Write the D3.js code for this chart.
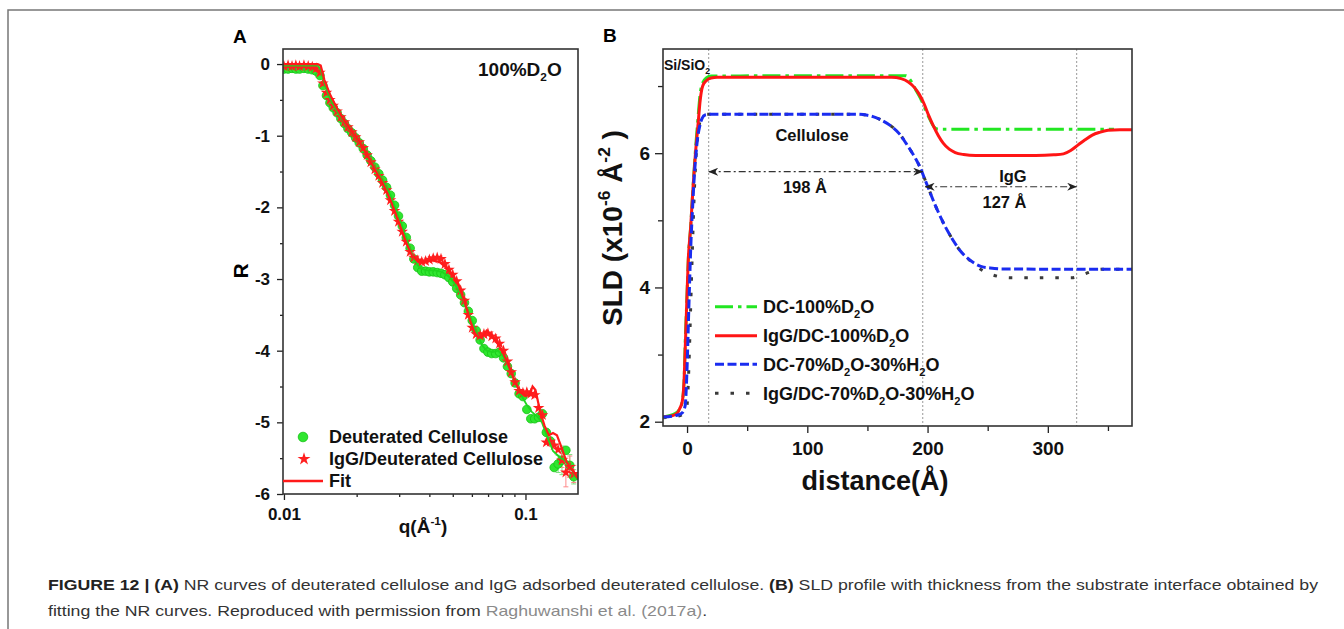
<!DOCTYPE html>
<html>
<head>
<meta charset="utf-8">
<script src="https://cdn.jsdelivr.net/npm/d3@7"></script>
<style>
  body { margin: 0; background: #fff; }
  svg text { font-family: Arial, "Liberation Sans", sans-serif; white-space: pre; }
</style>
</head>
<body>
<script>
// ---- panel A : NR curves (log q vs R) ----
var qPoints = [0.0100,0.0104,0.0108,0.0112,0.0116,0.0121,0.0126,0.0131,0.0136,0.0141,
  0.0145,0.0150,0.0155,0.0160,0.0166,0.0172,0.0178,0.0184,0.0191,0.0198,
  0.0205,0.0213,0.0221,0.0229,0.0238,0.0247,0.0256,0.0266,0.0276,0.0287,
  0.0298,0.0309,0.0321,0.0333,0.0345,0.0358,0.0372,0.0386,0.0400,0.0415,
  0.0431,0.0447,0.0464,0.0482,0.0500,0.0519,0.0539,0.0559,0.0580,0.0602,
  0.0625,0.0649,0.0673,0.0699,0.0725,0.0753,0.0781,0.0811,0.0842,0.0873,
  0.0906,0.0941,0.0976,0.1013,0.1052,0.1092,0.1133,0.1176,0.1220,0.1267,
  0.1315,0.1365,0.1416,0.1470,0.1526,0.1584]
var rStar = [-0.03,-0.02,-0.03,-0.02,-0.03,-0.02,-0.03,-0.04,-0.06,-0.12,
  -0.27,-0.40,-0.50,-0.58,-0.66,-0.74,-0.81,-0.88,-0.95,-1.02,
  -1.09,-1.17,-1.27,-1.37,-1.47,-1.56,-1.66,-1.76,-1.90,-2.05,
  -2.20,-2.34,-2.48,-2.62,-2.70,-2.74,-2.76,-2.75,-2.73,-2.71,
  -2.70,-2.72,-2.79,-2.87,-2.94,-3.03,-3.16,-3.30,-3.50,-3.68,
  -3.77,-3.79,-3.77,-3.76,-3.80,-3.83,-3.90,-4.00,-4.15,-4.30,
  -4.44,-4.56,-4.59,-4.58,-4.60,-4.62,-4.80,-4.90,-5.28,-5.27,
  -5.32,-5.38,-5.53,-5.70,-5.62,-5.72]
var rCirc = [-0.07,-0.07,-0.06,-0.07,-0.07,-0.06,-0.07,-0.08,-0.10,-0.16,
  -0.30,-0.44,-0.54,-0.61,-0.68,-0.76,-0.83,-0.90,-0.96,-1.03,
  -1.10,-1.18,-1.27,-1.35,-1.44,-1.53,-1.62,-1.72,-1.83,-1.97,
  -2.12,-2.26,-2.42,-2.57,-2.72,-2.84,-2.89,-2.89,-2.90,-2.90,
  -2.91,-2.92,-2.94,-2.98,-3.04,-3.13,-3.22,-3.33,-3.45,-3.58,
  -3.72,-3.85,-3.97,-4.02,-4.04,-4.04,-4.02,-4.10,-4.22,-4.32,
  -4.45,-4.60,-4.64,-4.82,-4.95,-4.95,-4.93,-4.88,-5.14,-5.26,
  -5.63,-5.58,-5.53,-5.39,-5.60,-5.76]

var qFitRed = [0.0099,0.0138,0.0142,0.0147,0.0155,0.0166,0.0178,0.0191,0.0205,0.0221,
  0.0238,0.0256,0.0276,0.0298,0.0321,0.0340,0.0358,0.0380,0.0410,0.0440,
  0.0470,0.0500,0.0530,0.0560,0.0590,0.0615,0.0640,0.0665,0.0690,0.0720,
  0.0760,0.0800,0.0850,0.0900,0.0950,0.1000,0.1040,0.1070,0.1100,0.1150,
  0.1200,0.1250,0.1300,0.1350,0.1400,0.1480,0.1600,0.1650]
var rFitRed = [0.0,0.0,-0.02,-0.22,-0.42,-0.62,-0.80,-0.95,-1.09,-1.27,
  -1.47,-1.66,-1.90,-2.20,-2.50,-2.68,-2.75,-2.76,-2.74,-2.76,
  -2.84,-2.95,-3.10,-3.32,-3.58,-3.75,-3.82,-3.80,-3.72,-3.78,
  -3.88,-4.00,-4.20,-4.42,-4.58,-4.63,-4.62,-4.50,-4.55,-4.85,
  -5.05,-5.18,-5.15,-5.18,-5.32,-5.55,-5.72,-5.78]
var qFitGreen = [0.0099,0.0138,0.0142,0.0148,0.0156,0.0166,0.0178,0.0191,0.0205,0.0221,
  0.0238,0.0256,0.0276,0.0298,0.0321,0.0345,0.0365,0.0390,0.0420,0.0450,
  0.0480,0.0510,0.0540,0.0570,0.0600,0.0630,0.0660,0.0690,0.0730,0.0770,
  0.0810,0.0860,0.0910,0.0960,0.1010,0.1060,0.1120,0.1170,0.1230,0.1300,
  0.1400,0.1500,0.1600,0.1650]
var rFitGreen = [-0.02,-0.02,-0.08,-0.30,-0.50,-0.66,-0.82,-0.96,-1.10,-1.27,
  -1.44,-1.62,-1.83,-2.12,-2.42,-2.72,-2.85,-2.88,-2.88,-2.90,
  -2.96,-3.07,-3.22,-3.40,-3.58,-3.76,-3.92,-4.00,-4.02,-4.00,
  -4.08,-4.25,-4.45,-4.62,-4.75,-4.85,-4.92,-5.00,-5.20,-5.40,
  -5.50,-5.55,-5.75,-5.80]

// error bars at high q
var errStarQ = [0.1416,0.1470,0.1526,0.1584], errStarR = [-5.53,-5.70,-5.62,-5.72], errStarD = [0.10,0.20,0.15,0.12]
var errCircQ = [0.1365,0.1416,0.1526,0.1584], errCircR = [-5.58,-5.53,-5.60,-5.76], errCircD = [0.12,0.20,0.15,0.10]

var qMajor = [0.01, 0.1]
var qMinor = [0.02,0.03,0.04,0.05,0.06,0.07,0.08,0.09]
var rMajor = [0,-1,-2,-3,-4,-5,-6]
var rMinor = [-0.5,-1.5,-2.5,-3.5,-4.5,-5.5]

// ---- panel B : SLD profiles ----
var distRed = [-20,-12,-8,-6,-4,-2.5,-1.5,0,1,3,5,7,9,11,13,16,20,25,170,178,184,189,193,197,201,205,209,213,218,223,230,240,290,305,313,319,325,331,337,343,350,360,370]
var sldRed = [2.07,2.09,2.13,2.2,2.3,2.6,3.1,3.9,4.4,4.9,5.5,6.0,6.4,6.8,7.0,7.08,7.12,7.13,7.13,7.11,7.06,6.98,6.88,6.74,6.56,6.4,6.26,6.15,6.06,6.01,5.98,5.965,5.965,5.975,5.99,6.04,6.12,6.2,6.27,6.31,6.34,6.35,6.35]
var distGreen = [-20,-10,-6,-4,-2.5,-1.5,0,1,3,5,7,9,11,13,16,20,182,186,190,194,198,202,205,208,212,355]
var sldGreen = [2.07,2.12,2.2,2.3,2.6,3.2,3.9,4.4,4.9,5.5,6.05,6.5,6.9,7.05,7.12,7.15,7.155,7.08,6.95,6.82,6.66,6.5,6.4,6.36,6.355,6.355]
var distBlue = [-20,-10,-5,-3,-1.5,0,1,2,3.3,4.5,5.5,7,8.6,10.5,12.5,15,20,140,150,157,163,170,177,182,186,190,194,198,202,206,210,214,218,222,227,233,239,245,252,262,370]
var sldBlue = [2.07,2.09,2.12,2.16,2.25,2.8,3.4,4.0,4.7,5.15,5.5,5.9,6.2,6.4,6.52,6.57,6.58,6.58,6.565,6.53,6.48,6.4,6.28,6.15,6.04,5.92,5.78,5.6,5.42,5.24,5.08,4.93,4.8,4.68,4.55,4.44,4.36,4.31,4.29,4.275,4.27]
var distGray = [-20,-8,-3,0,1.5,3,4.5,6,7.5,9.5,12,16,140,150,157,163,170,177,182,186,190,194,198,202,206,210,214,218,222,227,233,239,245,252,260,270,320,326,332,338,345,370]
var sldGray = [2.06,2.08,2.12,2.25,2.8,3.7,4.6,5.4,5.95,6.35,6.52,6.58,6.58,6.565,6.53,6.48,6.4,6.28,6.15,6.04,5.92,5.78,5.6,5.42,5.24,5.08,4.93,4.8,4.68,4.55,4.44,4.34,4.26,4.2,4.16,4.145,4.145,4.17,4.21,4.25,4.27,4.27]

var legendB = ["DC-100%D_{2}O", "IgG/DC-100%D_{2}O", "DC-70%D_{2}O-30%H_{2}O", "IgG/DC-70%D_{2}O-30%H_{2}O"]
var distMajor = [0,100,200,300]
var distMinor = [50,150,250,350]
var sldMajor = [2,4,6]
var sldMinor = [3,5,7]
var layerEdges = [18, 196, 324]   // dotted boundaries (Å)

var W = 1344, H = 629
var svg = d3.select("body").append("svg").attr("width", W).attr("height", H)
var defs = svg.append("defs")

// figure box (left + top border)
svg.append("path").attr("d", "M8,629 V10 H1344").attr("fill", "none").attr("stroke", "#777").attr("stroke-width", 1.5)

// writes a string with _{sub} and ^{sup} parts into a text element
function rich(text, str, size) {
  var parts = str.split(/(_\{[^}]*\}|\^\{[^}]*\})/).filter(function(s) { return s.length })
  var shift = 0
  parts.forEach(function(p) {
    var t = p, s = size, dy = 0
    if (p.indexOf("_{") === 0) { t = p.slice(2, -1); s = size * 0.62; dy = size * 0.28 }
    else if (p.indexOf("^{") === 0) { t = p.slice(2, -1); s = size * 0.62; dy = -size * 0.42 }
    var ts = text.append("tspan").attr("font-size", s).text(t)
    if (dy - shift) ts.attr("dy", dy - shift)
    shift = dy
  })
}

function axes(g, axisFn, scale, major, minor, majLen, minLen, pad, fmt, fs) {
  g.call(axisFn(scale).tickValues(minor).tickSize(minLen).tickSizeOuter(0).tickFormat(""))
  g.append("g").call(axisFn(scale).tickValues(major).tickSize(majLen).tickSizeOuter(0).tickPadding(pad).tickFormat(fmt))
  g.selectAll(".domain").remove()
  g.selectAll("line").attr("stroke", "#222").attr("stroke-width", 1.3)
  g.selectAll("text").attr("font-size", fs).attr("font-weight", "bold").attr("fill", "#111")
    .attr("font-family", "Arial, 'Liberation Sans', sans-serif")
}

// ================= PANEL A =================
var A = {x0: 283, x1: 578, y0: 49, y1: 494}
var xA = d3.scaleLog().domain([0.00991, 0.165]).range([A.x0, A.x1])
var yA = d3.scaleLinear().domain([-6, 0.21]).range([A.y1, A.y0])
var gA = svg.append("g")

defs.append("clipPath").attr("id", "clipA").append("rect")
  .attr("x", A.x0).attr("y", A.y0).attr("width", A.x1 - A.x0).attr("height", A.y1 - A.y0)

axes(gA.append("g").attr("transform", "translate(0," + A.y1 + ")"), d3.axisBottom, xA, qMajor, qMinor, 6, 3, 8, function(d) { return String(d) }, 17)
axes(gA.append("g").attr("transform", "translate(" + A.x0 + ",0)"), d3.axisLeft, yA, rMajor, rMinor, 6, 3, 7, function(d) { return String(d) }, 17)

var plotA = gA.append("g").attr("clip-path", "url(#clipA)")

// error bars
function errBars(qs, rs, ds, color) {
  qs.forEach(function(q, i) {
    var x = xA(q), ya = yA(rs[i] + ds[i]), yb = yA(rs[i] - ds[i])
    plotA.append("path").attr("d", "M" + x + "," + ya + "V" + yb + "M" + (x - 2.5) + "," + ya + "h5M" + (x - 2.5) + "," + yb + "h5")
      .attr("stroke", color).attr("stroke-width", 1).attr("fill", "none")
  })
}
errBars(errCircQ, errCircR, errCircD, "#7fe07f")
errBars(errStarQ, errStarR, errStarD, "#ff8a8a")

plotA.selectAll(".circ").data(qPoints).enter().append("circle")
  .attr("cx", function(d) { return xA(d) })
  .attr("cy", function(d, i) { return yA(rCirc[i]) })
  .attr("r", 4.3).attr("fill", "#2fe62f").attr("stroke", "#14c214").attr("stroke-width", 0.8)

var star = d3.symbol().type(d3.symbolStar)
plotA.selectAll(".star").data(qPoints).enter().append("path")
  .attr("transform", function(d, i) { return "translate(" + xA(d) + "," + yA(rStar[i]) + ")" })
  .attr("d", star.size(42)()).attr("fill", "#ff1f1f")

var lineA = d3.line().x(function(d) { return xA(d[0]) }).y(function(d) { return yA(d[1]) })
plotA.append("path").datum(d3.zip(qFitGreen, rFitGreen)).attr("d", lineA)
  .attr("fill", "none").attr("stroke", "#1fd61f").attr("stroke-width", 1.8)
plotA.append("path").datum(d3.zip(qFitRed, rFitRed)).attr("d", lineA)
  .attr("fill", "none").attr("stroke", "#ff1a1a").attr("stroke-width", 2.2)

gA.append("rect").attr("x", A.x0).attr("y", A.y0).attr("width", A.x1 - A.x0).attr("height", A.y1 - A.y0)
  .attr("fill", "none").attr("stroke", "#333").attr("stroke-width", 1.6)

// labels
var t100 = gA.append("text").attr("x", 478).attr("y", 76).attr("font-weight", "bold").attr("fill", "#111")
rich(t100, "100%D_{2}O", 19)
gA.append("text").attr("x", 233).attr("y", 43).attr("font-size", 19).attr("font-weight", "bold").text("A")
gA.append("text").attr("transform", "translate(248,271) rotate(-90)").attr("text-anchor", "middle")
  .attr("font-size", 21).attr("font-weight", "bold").text("R")
var qlab = gA.append("text").attr("x", 423).attr("y", 533).attr("text-anchor", "middle").attr("font-weight", "bold").attr("fill", "#111")
rich(qlab, "q(Å^{-1})", 19)

// legend A
var legA = gA.append("g").attr("font-size", 18).attr("font-weight", "bold").attr("fill", "#111")
legA.append("circle").attr("cx", 303).attr("cy", 437).attr("r", 4.8).attr("fill", "#2fe62f").attr("stroke", "#14c214").attr("stroke-width", 0.8)
legA.append("text").attr("x", 329).attr("y", 443).text("Deuterated Cellulose")
legA.append("path").attr("transform", "translate(304,459)").attr("d", star.size(52)()).attr("fill", "#ff1f1f")
legA.append("text").attr("x", 329).attr("y", 465).text("IgG/Deuterated Cellulose")
legA.append("line").attr("x1", 283).attr("x2", 323).attr("y1", 481).attr("y2", 481).attr("stroke", "#ff1a1a").attr("stroke-width", 2.4)
legA.append("text").attr("x", 329).attr("y", 487).text("Fit")

// ================= PANEL B =================
var B = {x0: 663, x1: 1132, y0: 49, y1: 426}
var xB = d3.scaleLinear().domain([-20, 370]).range([B.x0, B.x1])
var yB = d3.scaleLinear().domain([1.936, 7.552]).range([B.y1, B.y0])
var gB = svg.append("g")

defs.append("clipPath").attr("id", "clipB").append("rect")
  .attr("x", B.x0).attr("y", B.y0).attr("width", B.x1 - B.x0).attr("height", B.y1 - B.y0)

axes(gB.append("g").attr("transform", "translate(0," + B.y1 + ")"), d3.axisBottom, xB, distMajor, distMinor, 7, 5, 9, d3.format("d"), 19)
axes(gB.append("g").attr("transform", "translate(" + B.x0 + ",0)"), d3.axisLeft, yB, sldMajor, sldMinor, 8, 5, 5, d3.format("d"), 19)

// dotted layer boundaries
gB.selectAll(".edge").data(layerEdges).enter().append("line")
  .attr("x1", function(d) { return xB(d) }).attr("x2", function(d) { return xB(d) })
  .attr("y1", B.y0).attr("y2", B.y1)
  .attr("stroke", "#999").attr("stroke-width", 1).attr("stroke-dasharray", "2,2")

var styles = [
  {color: "#22e622", dash: "18,5,3.5,5", w: 3},
  {color: "#ff1515", dash: null, w: 3},
  {color: "#1a2cf0", dash: "9,3.5", w: 3},
  {color: "#3a3a3a", dash: "3.5,12", w: 3}
]
var seriesB = [d3.zip(distGreen, sldGreen), d3.zip(distRed, sldRed), d3.zip(distBlue, sldBlue), d3.zip(distGray, sldGray)]
var drawOrder = [3, 0, 1, 2]

var plotB = gB.append("g").attr("clip-path", "url(#clipB)")
var lineB = d3.line().curve(d3.curveMonotoneX).x(function(d) { return xB(d[0]) }).y(function(d) { return yB(d[1]) })
drawOrder.forEach(function(k) {
  var p = plotB.append("path").datum(seriesB[k]).attr("d", lineB)
    .attr("fill", "none").attr("stroke", styles[k].color).attr("stroke-width", styles[k].w)
  if (styles[k].dash) p.attr("stroke-dasharray", styles[k].dash)
})

// dimension arrows
defs.append("marker").attr("id", "head").attr("viewBox", "0 0 10 8").attr("refX", 9.5).attr("refY", 4)
  .attr("markerUnits", "userSpaceOnUse").attr("markerWidth", 10).attr("markerHeight", 8)
  .attr("orient", "auto-start-reverse")
  .append("path").attr("d", "M0,0 L10,4 L0,8 L3,4 Z").attr("fill", "#222")

function dimArrow(d0, d1, v) {
  gB.append("line").attr("x1", xB(d0)).attr("x2", xB(d1)).attr("y1", yB(v)).attr("y2", yB(v))
    .attr("stroke", "#333").attr("stroke-width", 1.2).attr("stroke-dasharray", "7,3,2,3")
    .attr("marker-start", "url(#head)").attr("marker-end", "url(#head)")
}
dimArrow(18, 196, 5.724)
dimArrow(198, 324, 5.50)

var annB = gB.append("g").attr("font-weight", "bold").attr("fill", "#111").attr("text-anchor", "middle")
annB.append("text").attr("x", xB(104)).attr("y", yB(6.18)).attr("font-size", 16.5).text("Cellulose")
annB.append("text").attr("x", xB(98)).attr("y", yB(5.41)).attr("font-size", 16.5).text("198 Å")
annB.append("text").attr("x", xB(271)).attr("y", yB(5.57)).attr("font-size", 16.5).text("IgG")
annB.append("text").attr("x", xB(264)).attr("y", yB(5.18)).attr("font-size", 16.5).text("127 Å")
var si = gB.append("text").attr("x", 664).attr("y", 70).attr("font-weight", "bold").attr("fill", "#111")
rich(si, "Si/SiO_{2}", 14)

gB.append("rect").attr("x", B.x0).attr("y", B.y0).attr("width", B.x1 - B.x0).attr("height", B.y1 - B.y0)
  .attr("fill", "none").attr("stroke", "#333").attr("stroke-width", 1.6)

gB.append("text").attr("x", 603).attr("y", 42).attr("font-size", 19).attr("font-weight", "bold").text("B")
var ylB = gB.append("text").attr("transform", "translate(622,228) rotate(-90)").attr("text-anchor", "middle")
  .attr("font-weight", "bold").attr("fill", "#111")
rich(ylB, "SLD (x10^{-6} Å^{-2} )", 28)
gB.append("text").attr("x", 875).attr("y", 490).attr("text-anchor", "middle")
  .attr("font-size", 27).attr("font-weight", "bold").attr("fill", "#111").text("distance(Å)")

// legend B
var legB = gB.append("g").attr("font-weight", "bold").attr("fill", "#111")
var legRows = [306.7, 335.7, 364.3, 393.3]
legendB.forEach(function(lbl, k) {
  var y = legRows[k]
  var l = legB.append("line").attr("x1", 715).attr("x2", 757).attr("y1", y).attr("y2", y)
    .attr("stroke", styles[k].color).attr("stroke-width", styles[k].w)
  if (styles[k].dash) l.attr("stroke-dasharray", styles[k].dash)
  var t = legB.append("text").attr("x", 763).attr("y", y + 6.5)
  rich(t, lbl, 18)
})

// ================= CAPTION =================
var cap1 = svg.append("text").attr("x", 48).attr("y", 590).attr("font-size", 15).attr("fill", "#333")
cap1.append("tspan").attr("font-weight", "bold").attr("fill", "#222").text("FIGURE 12 | (A)")
cap1.append("tspan").text(" NR curves of deuterated cellulose and IgG adsorbed deuterated cellulose. ")
cap1.append("tspan").attr("font-weight", "bold").attr("fill", "#222").text("(B)")
cap1.append("tspan").text(" SLD profile with thickness from the substrate interface obtained by")
var cap2 = svg.append("text").attr("x", 48).attr("y", 616).attr("font-size", 15).attr("fill", "#333")
cap2.append("tspan").text("fitting the NR curves. Reproduced with permission from ")
cap2.append("tspan").attr("fill", "#8a8a8a").text("Raghuwanshi et al. (2017a)")
cap2.append("tspan").text(".")

var L1 = cap1.node().getComputedTextLength(), L2 = cap2.node().getComputedTextLength()
var k = 1270 / L1
cap1.attr("textLength", 1270).attr("lengthAdjust", "spacingAndGlyphs")
cap2.attr("textLength", L2 * k).attr("lengthAdjust", "spacingAndGlyphs")
</script>
</body>
</html>
